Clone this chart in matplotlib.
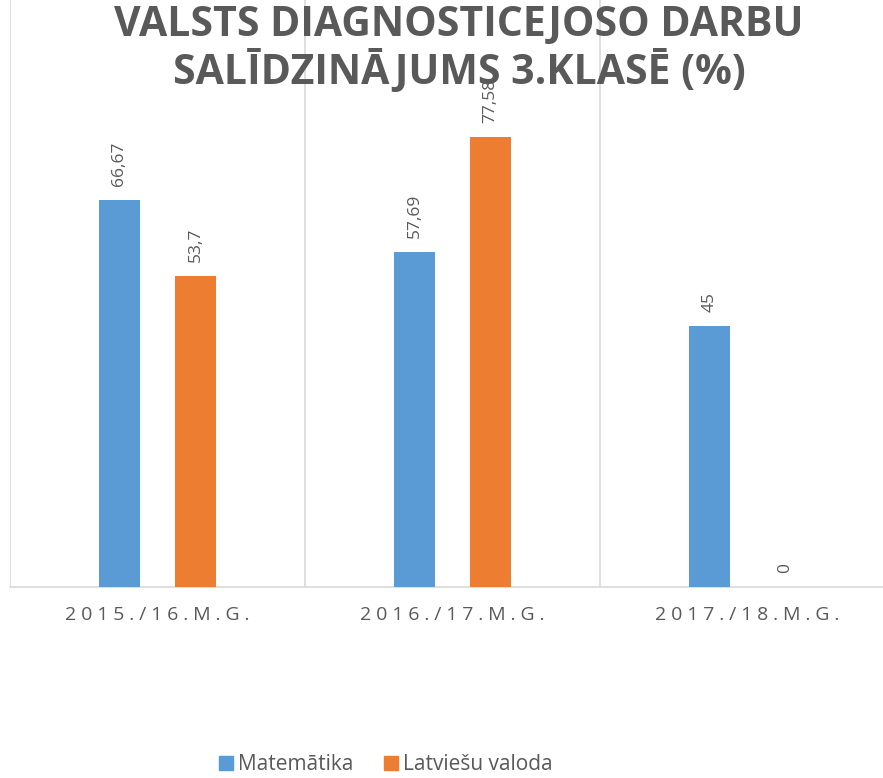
import numpy as np
import matplotlib
matplotlib.use('Agg')
import matplotlib.pyplot as plt
from matplotlib.patches import Patch

plt.rcParams['font.family'] = ['Open Sans', 'DejaVu Sans']

# dati
categories = ['2015./16.M.G.', '2016./17.M.G.', '2017./18.M.G.']
series_names = ['Matemātika', 'Latviešu valoda']
matematika = [66.67, 57.69, 45]
latviesu = [53.7, 77.58, 0]
labels_mat = ['66,67', '57,69', '45']
labels_lat = ['53,7', '77,58', '0']

blue = '#5B9BD5'
orange = '#ED7D31'
txt = '#595959'
grid = '#D9D9D9'

fig = plt.figure(figsize=(8.83, 7.78), dpi=100)
ax = fig.add_axes([10 / 883, 191 / 778, 885 / 883, 587 / 778])

x = np.arange(len(categories))
w = 0.136
off = 0.129
b1 = ax.bar(x - off, matematika, w, color=blue, zorder=3)
b2 = ax.bar(x + off, latviesu, w, color=orange, zorder=3)

# datu etiķetes
for bars, labs in ((b1, labels_mat), (b2, labels_lat)):
    for r, lab in zip(bars, labs):
        ax.annotate(lab, (r.get_x() + r.get_width() / 2, r.get_height()),
                    xytext=(0, 10), textcoords='offset points',
                    rotation=90, ha='center', va='bottom',
                    fontsize=12.5, color=txt, zorder=4)

ax.set_xlim(-0.5, 2.5)
ax.set_ylim(0, 101.2)

# vertikālās atdalītājlīnijas
for b in np.arange(-0.5, len(categories) + 0.5, 1):
    ax.axvline(b, color=grid, lw=1.2, zorder=1)

for s in ('top', 'right', 'left'):
    ax.spines[s].set_visible(False)
ax.spines['bottom'].set_color(grid)
ax.spines['bottom'].set_linewidth(1.2)
ax.set_yticks([])
ax.set_xticks(x)
# Excel izmanto paplašinātu burtu atstarpi
ax.set_xticklabels(['\u2005'.join(c) for c in categories], fontsize=14, color=txt)
ax.tick_params(axis='x', length=0, pad=14)

fig.text(0.52, 1 - 25 / 778, 'VALSTS DIAGNOSTICEJOSO DARBU', ha='center', va='center',
         fontsize=29.5, fontweight='bold', color=txt)
fig.text(0.52, 1 - 72 / 778, 'SALĪDZINĀJUMS 3.KLASĒ (%)', ha='center', va='center',
         fontsize=29.5, fontweight='bold', color=txt)

handles = [Patch(color=blue, label=series_names[0]), Patch(color=orange, label=series_names[1])]
leg = fig.legend(handles=handles, loc='center', bbox_to_anchor=(0.437, 1 - 765 / 778),
                 ncol=2, frameon=False, fontsize=15, handlelength=0.68, handleheight=0.68,
                 handletextpad=0.25, columnspacing=1.45, borderpad=0.2)
for t in leg.get_texts():
    t.set_color(txt)

fig.savefig('out.png', dpi=100)
